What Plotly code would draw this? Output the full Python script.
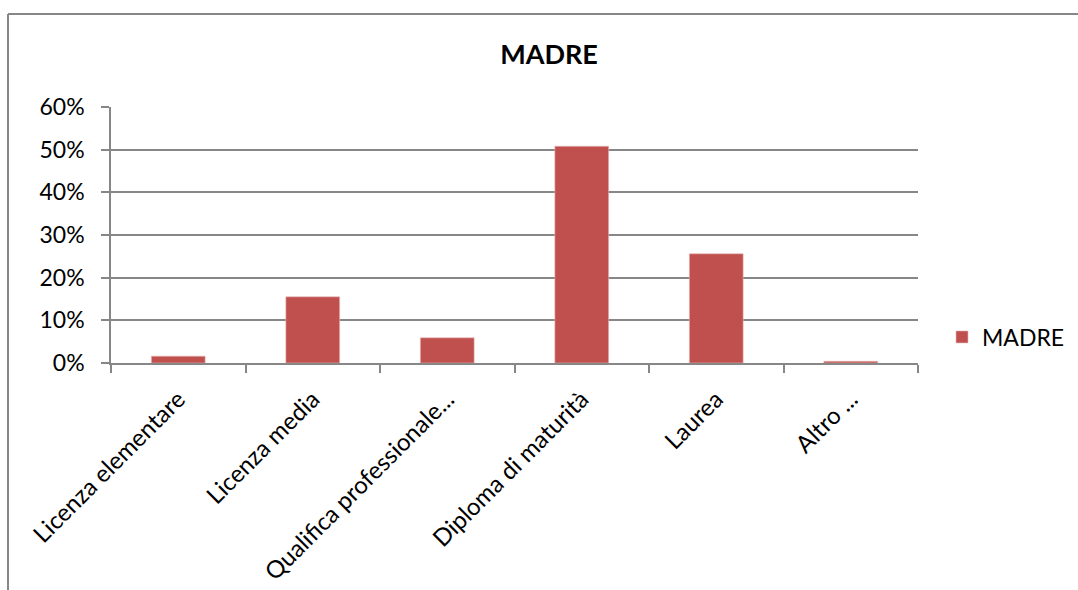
import plotly.graph_objects as go

categories = ["Licenza elementare", "Licenza media", "Qualifica professionale...",
              "Diploma di maturità", "Laurea", "Altro ..."]
madre = [0.016, 0.155, 0.059, 0.508, 0.256, 0.004]
y_ticks = [0, 0.1, 0.2, 0.3, 0.4, 0.5, 0.6]
y_tick_labels = ["0%", "10%", "20%", "30%", "40%", "50%", "60%"]

W, H = 1078, 590
L, R, T, B = 111, 160, 107, 227
pw, ph = W - L - R, H - T - B

def px_x(x):
    return (x - L) / pw

def px_y(y):
    return (H - B - y) / ph

GRID = "#878787"
FONT = "Lato"

fig = go.Figure()
fig.add_trace(go.Bar(
    x=categories, y=madre, name="MADRE",
    marker=dict(color="#C0504D", line=dict(color="#E6B9B8", width=0.6)),
    showlegend=True,
))

fig.update_layout(
    width=W, height=H,
    margin=dict(l=L, r=R, t=T, b=B, autoexpand=False),
    paper_bgcolor="white", plot_bgcolor="white",
    bargap=0.6,
    font=dict(family=FONT, size=22, color="black"),
    title=dict(text="<b>MADRE</b>", x=px_x(549), xref="paper", xanchor="center",
               y=1 - 55 / H, yref="container", yanchor="middle",
               font=dict(family=FONT, size=27, color="black")),
    showlegend=True,
    legend=dict(x=px_x(942), y=px_y(337), xref="paper", yref="paper",
                xanchor="left", yanchor="middle",
                font=dict(family=FONT, size=23, color="black"),
                itemwidth=30, bgcolor="rgba(0,0,0,0)"),
    xaxis=dict(
        type="category", tickangle=-45, tickson="boundaries",
        ticks="outside", ticklen=8, tickcolor=GRID, tickwidth=1.5,
        showline=True, linecolor=GRID, linewidth=1.5,
        showgrid=False, automargin=False,
        ticklabelstandoff=11,
        tickfont=dict(family=FONT, size=24, color="black"),
    ),
    yaxis=dict(
        range=[0, 0.6], tickvals=y_ticks, ticktext=y_tick_labels,
        ticks="outside", ticklen=8, tickcolor=GRID, tickwidth=1.5,
        showline=True, linecolor=GRID, linewidth=1.5,
        showgrid=True, gridcolor=GRID, gridwidth=1.5,
        zeroline=False, automargin=False,
        ticklabelstandoff=12,
        tickfont=dict(family=FONT, size=23, color="black"),
    ),
    shapes=[
        dict(type="line", xref="paper", yref="paper",
             x0=px_x(8), x1=px_x(W + 5), y0=px_y(14), y1=px_y(14),
             line=dict(color=GRID, width=2)),
        dict(type="line", xref="paper", yref="paper",
             x0=px_x(8), x1=px_x(8), y0=px_y(14), y1=px_y(H + 5),
             line=dict(color=GRID, width=2)),
    ],
)

fig.write_html("out.html")
